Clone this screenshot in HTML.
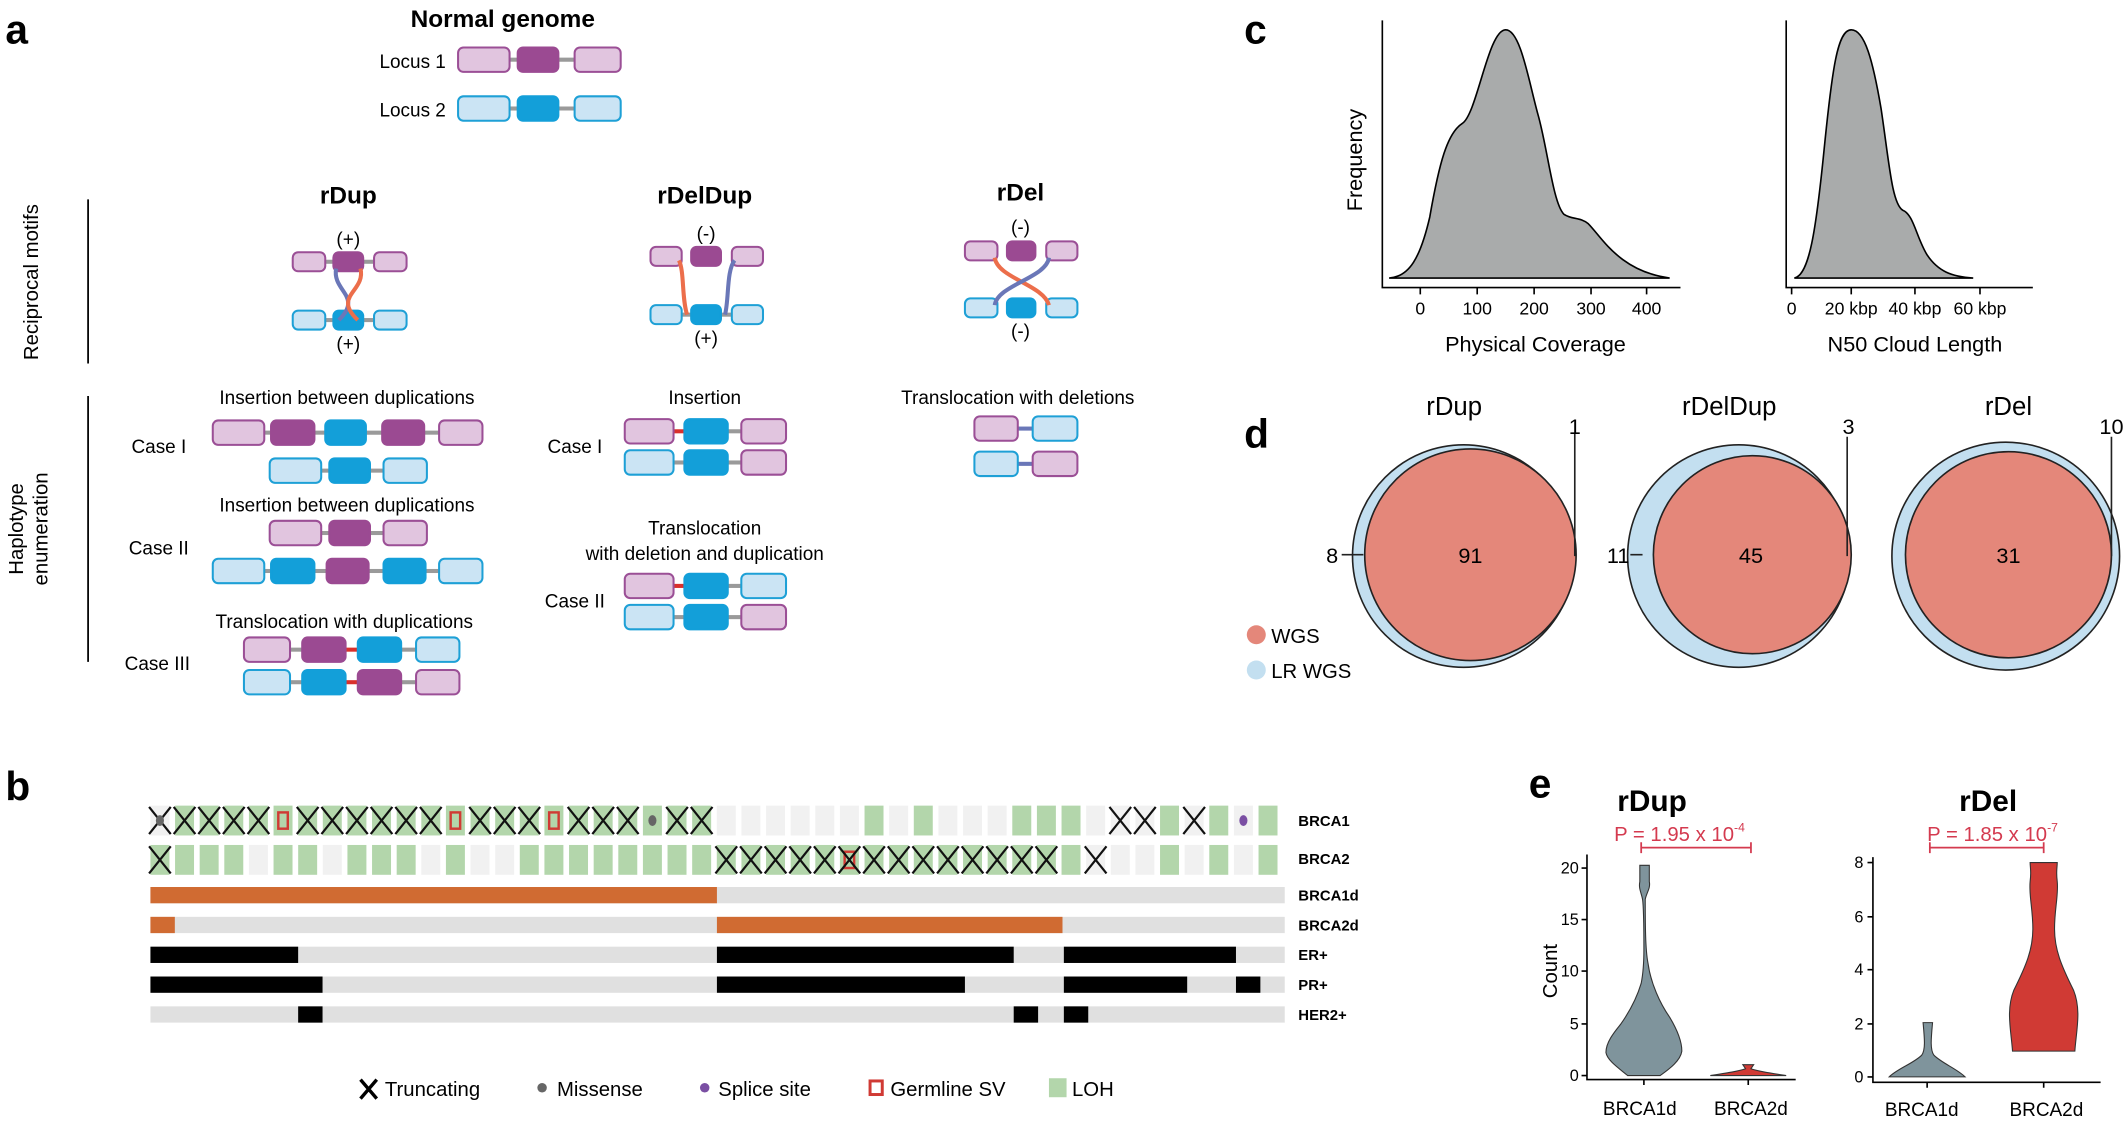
<!DOCTYPE html>
<html><head><meta charset="utf-8"><style>
html,body{margin:0;padding:0;background:#fff}
svg{display:block}
text{font-family:"Liberation Sans",Arial,sans-serif}
</style></head><body>
<svg id="s" width="2125" height="1123" viewBox="0 0 1568 828" preserveAspectRatio="none" xmlns="http://www.w3.org/2000/svg">
<g font-weight="bold" font-size="30"><text x="4" y="32">a</text><text x="4" y="590">b</text><text x="918" y="32">c</text><text x="918" y="330">d</text><text x="1128" y="588">e</text></g>
<text x="371" y="20" font-size="18" font-weight="bold" text-anchor="middle">Normal genome</text>
<text x="329" y="50" font-size="14" text-anchor="end">Locus 1</text>
<text x="329" y="86" font-size="14" text-anchor="end">Locus 2</text>
<g font-size="18" font-weight="bold" text-anchor="middle"><text x="257" y="150">rDup</text><text x="520" y="150">rDelDup</text><text x="753" y="148">rDel</text></g>
<g font-size="14" text-anchor="middle"><text x="257" y="181">(+)</text><text x="257" y="258">(+)</text><text x="521" y="177">(-)</text><text x="521" y="254">(+)</text><text x="753" y="172">(-)</text><text x="753" y="249">(-)</text></g>
<line x1="65" y1="147" x2="65" y2="268" stroke="#000" stroke-width="1.3"/>
<line x1="65" y1="292" x2="65" y2="488" stroke="#000" stroke-width="1.3"/>
<text transform="translate(28,208) rotate(-90)" font-size="15" text-anchor="middle">Reciprocal motifs</text>
<text transform="translate(17,390) rotate(-90)" font-size="15" text-anchor="middle">Haplotype</text>
<text transform="translate(35,390) rotate(-90)" font-size="15" text-anchor="middle">enumeration</text>
<g font-size="14" text-anchor="middle"><text x="256" y="298">Insertion between duplications</text><text x="256" y="377">Insertion between duplications</text><text x="254" y="463">Translocation with duplications</text><text x="520" y="298">Insertion</text><text x="520" y="394">Translocation</text><text x="520" y="413">with deletion and duplication</text><text x="751" y="298">Translocation with deletions</text></g>
<g font-size="14"><text x="97" y="334">Case I</text><text x="95" y="409">Case II</text><text x="92" y="494">Case III</text><text x="404" y="334">Case I</text><text x="402" y="448">Case II</text></g>
<g id="g"></g>
<!-- panel c -->
<g stroke="#000" stroke-width="1.2" fill="none">
<path d="M1020 15V212H1240M1048 212v5M1090 212v5M1132 212v5M1174 212v5M1215 212v5"/>
<path d="M1318 15V212H1500M1322 212v5M1366 212v5M1413 212v5M1461 212v5"/>
</g>
<path d="M1025 205 C1040 204,1048 190,1055 160 C1062 120,1068 98,1079 91 C1090 84,1098 22,1111 22 C1122 22,1128 60,1135 85 C1142 110,1146 150,1154 158 C1160 162,1166 160,1172 165 C1182 175,1195 200,1232 205Z" fill="#a9abab" stroke="#000" stroke-width="1.2"/>
<path d="M1324 205 C1335 203,1340 170,1346 110 C1352 50,1356 22,1366 22 C1376 22,1382 45,1388 80 C1394 120,1396 150,1404 155 C1412 158,1414 175,1422 188 C1430 200,1440 204,1456 205Z" fill="#a9abab" stroke="#000" stroke-width="1.2"/>
<g font-size="13" text-anchor="middle"><text x="1048" y="232">0</text><text x="1090" y="232">100</text><text x="1132" y="232">200</text><text x="1174" y="232">300</text><text x="1215" y="232">400</text>
<text x="1322" y="232">0</text><text x="1366" y="232">20 kbp</text><text x="1413" y="232">40 kbp</text><text x="1461" y="232">60 kbp</text></g>
<g font-size="16" text-anchor="middle"><text x="1133" y="259">Physical Coverage</text><text x="1413" y="259">N50 Cloud Length</text></g>
<text transform="translate(1005,118) rotate(-90)" font-size="16" text-anchor="middle">Frequency</text>
<!-- panel d -->
<g stroke="#222" stroke-width="1.2">
<circle cx="1080" cy="410" r="82" fill="#c3dff0"/><circle cx="1085" cy="409" r="78" fill="#e4877a"/>
<circle cx="1283" cy="410" r="82" fill="#c3dff0"/><circle cx="1293" cy="409" r="73" fill="#e4877a"/>
<circle cx="1480" cy="410" r="84" fill="#c3dff0"/><circle cx="1482" cy="409" r="76" fill="#e4877a"/>
<path d="M1162 320V410M990 409H1006M1363 322V410M1203 409H1212M1558 322V410" fill="none"/>
</g>
<g font-size="19" text-anchor="middle"><text x="1073" y="306">rDup</text><text x="1276" y="306">rDelDup</text><text x="1482" y="306">rDel</text></g>
<g font-size="16" text-anchor="middle"><text x="1085" y="415">91</text><text x="1292" y="415">45</text><text x="1482" y="415">31</text><text x="1162" y="320">1</text><text x="983" y="415">8</text><text x="1364" y="320">3</text><text x="1194" y="415">11</text><text x="1558" y="320">10</text></g>
<circle cx="927" cy="468" r="7" fill="#e4877a"/><circle cx="927" cy="494" r="7" fill="#c3dff0"/>
<g font-size="15"><text x="938" y="474">WGS</text><text x="938" y="500">LR WGS</text></g>
<!-- panel e -->
<g font-size="22" font-weight="bold" text-anchor="middle"><text x="1219" y="598">rDup</text><text x="1467" y="598">rDel</text></g>
<g fill="#d43a4f" font-size="15"><text x="1191" y="620">P = 1.95 x 10<tspan font-size="9" dy="-7">-4</tspan></text><text x="1422" y="620">P = 1.85 x 10<tspan font-size="9" dy="-7">-7</tspan></text></g>
<g stroke="#d43a4f" stroke-width="1.3"><path d="M1211 625H1292M1211 621v8M1292 621v8"/><path d="M1424 625H1508M1424 621v8M1508 621v8"/></g>
<g stroke="#000" stroke-width="1.2" fill="none"><path d="M1171 630V796H1325M1167 640h4M1167 678h4M1167 716h4M1167 755h4M1167 793h4M1213 796v4M1290 796v4"/>
<path d="M1382 632V798H1550M1378 636h4M1378 676h4M1378 715h4M1378 755h4M1378 794h4M1422 798v4M1508 798v4"/></g>
<g font-size="12" text-anchor="end"><text x="1165" y="644">20</text><text x="1165" y="682">15</text><text x="1165" y="720">10</text><text x="1165" y="759">5</text><text x="1165" y="797">0</text>
<text x="1375" y="640">8</text><text x="1375" y="680">6</text><text x="1375" y="719">4</text><text x="1375" y="759">2</text><text x="1375" y="798">0</text></g>
<text transform="translate(1149,716) rotate(-90)" font-size="15" text-anchor="middle">Count</text>
<g font-size="14" text-anchor="middle"><text x="1210" y="822">BRCA1d</text><text x="1292" y="822">BRCA2d</text><text x="1418" y="823">BRCA1d</text><text x="1510" y="823">BRCA2d</text></g>
<path d="M1201 793 C1195 788,1186 782,1185 776 C1185 768,1192 760,1196 755 C1203 745,1208 735,1211 725 C1213 715,1213 705,1213 700 C1213 690,1213 670,1212 663 C1211 658,1209 655,1210 650 L1210 638 H1217 L1217 650 C1218 655,1215 658,1214 663 C1214 680,1214 700,1216 710 C1218 725,1225 740,1232 750 C1238 760,1241 768,1241 775 C1240 782,1232 788,1225 793Z" fill="#7f949c" stroke="#333" stroke-width="0.8"/>
<path d="M1262 793 C1275 791,1282 790,1288 788 L1286 785 H1294 L1292 788 C1298 790,1305 791,1318 793Z" fill="#d03a34" stroke="#333" stroke-width="0.8"/>
<path d="M1394 794 C1400 788,1412 784,1418 778 C1421 774,1420 765,1419 754 H1426 C1425 765,1424 774,1427 778 C1433 784,1444 788,1450 794Z" fill="#7f949c" stroke="#333" stroke-width="0.8"/>
<path d="M1485 775 C1484 760,1480 745,1486 730 C1495 712,1500 700,1500 685 C1500 670,1497 660,1498 650 C1499 642,1498 640,1498 636 H1518 C1518 640,1517 642,1518 650 C1519 660,1516 670,1516 685 C1516 700,1521 712,1530 730 C1536 745,1532 760,1531 775Z" fill="#d03a34" stroke="#333" stroke-width="0.8"/>
<!-- panel b legend -->
<g font-size="15"><text x="284" y="808">Truncating</text><text x="411" y="808">Missense</text><text x="530" y="808">Splice site</text><text x="657" y="808">Germline SV</text><text x="791" y="808">LOH</text></g>
<path d="M266 796l12 14M278 796l-12 14" stroke="#000" stroke-width="2.5"/>
<circle cx="400" cy="802" r="3.5" fill="#666"/><circle cx="520" cy="802" r="3.5" fill="#7a4fa3"/>
<rect x="642" y="797" width="9" height="10" fill="#fff" stroke="#d03a34" stroke-width="2.2"/>
<rect x="774" y="795" width="13" height="14" fill="#b3d6ab"/>
<g font-size="11" font-weight="bold"><text x="958" y="609">BRCA1</text><text x="958" y="637">BRCA2</text><text x="958" y="664">BRCA1d</text><text x="958" y="686">BRCA2d</text><text x="958" y="708">ER+</text><text x="958" y="730">PR+</text><text x="958" y="752">HER2+</text></g>
</svg>
<script>
var NS="http://www.w3.org/2000/svg",G=document.getElementById("g");
function el(t,a){var e=document.createElementNS(NS,t);for(var k in a)e.setAttribute(k,a[k]);G.appendChild(e);return e;}
var C={lp:["#e1c5df","#9b4f96"],dp:["#9b4a92","#9b4a92"],lb:["#cbe4f4","#1ea0d6"],db:["#139fd9","#139fd9"]};
function row(y,h,bs,lc){
 for(var i=0;i<bs.length-1;i++){el("line",{x1:bs[i][1],y1:y,x2:bs[i+1][0],y2:y,stroke:(lc&&lc[i])||"#9a9a9a","stroke-width":3});}
 bs.forEach(function(b){var c=C[b[2]];el("rect",{x:b[0],y:y-h/2,width:b[1]-b[0],height:h,rx:4,fill:c[0],stroke:c[1],"stroke-width":1.5});});
}
var H=18,R="#d9302c";
row(44,H,[[338,376,"lp"],[382,412,"dp"],[424,458,"lp"]]);
row(80,H,[[338,376,"lb"],[382,412,"db"],[424,458,"lb"]]);
row(319,H,[[157,195,"lp"],[200,232,"dp"],[240,270,"db"],[282,313,"dp"],[324,356,"lp"]]);
row(347,H,[[199,237,"lb"],[243,273,"db"],[283,315,"lb"]]);
row(393,H,[[199,237,"lp"],[243,273,"dp"],[283,315,"lp"]]);
row(421,H,[[157,195,"lb"],[200,232,"db"],[241,272,"dp"],[283,314,"db"],[324,356,"lb"]]);
row(479,H,[[180,214,"lp"],[223,255,"dp"],[264,296,"db"],[307,339,"lb"]],[0,R]);
row(503,H,[[180,214,"lb"],[223,255,"db"],[264,296,"dp"],[307,339,"lp"]],[0,R]);
row(318,H,[[461,497,"lp"],[505,537,"db"],[547,580,"lp"]],[R]);
row(341,H,[[461,497,"lb"],[505,537,"db"],[547,580,"lp"]]);
row(432,H,[[461,497,"lp"],[505,537,"db"],[547,580,"lb"]],[R]);
row(455,H,[[461,497,"lb"],[505,537,"db"],[547,580,"lp"]]);
row(316,H,[[719,751,"lp"],[762,795,"lb"]],["#6a77b8"]);
row(342,H,[[719,751,"lb"],[762,795,"lp"]],["#6a77b8"]);
var h2=14;
function motif(y1,y2,bs,curves,links1,links2){
 row(y1,h2,[[bs[0],bs[1],"lp"],[bs[2],bs[3],"dp"],[bs[4],bs[5],"lp"]],links1);
 row(y2,h2,[[bs[0],bs[1],"lb"],[bs[2],bs[3],"db"],[bs[4],bs[5],"lb"]],links2);
 curves.forEach(function(c){el("path",{d:c[0],stroke:c[1],"stroke-width":3,fill:"none"});});
}
motif(193,236,[216,240,246,268,276,300],[["M248 198 C245 215,268 218,250 236","#6a77b8"],["M266 198 C270 215,245 218,264 236","#ec6e4b"]]);
motif(189,232,[480,503,510,532,540,563],[["M501 192 C505 200,503 220,507 232","#ec6e4b"],["M542 192 C536 200,538 220,535 232","#6a77b8"]],["none","none"]);
motif(185,227,[712,736,743,764,772,795],[["M734 190 C736 205,770 210,774 225","#ec6e4b"],["M774 190 C772 205,736 210,734 225","#6a77b8"]],["none","none"],["none","none"]);
var x0=111,p=18.17,w=14;
function cx(i){return x0+i*p;}
var B1={X:[0,1,2,3,4,6,7,8,9,10,11,13,14,15,17,18,19,21,22,39,40,42],S:[5,12,16],M:[0,20],P:[44],L:[1,2,3,4,5,6,7,8,9,10,11,12,13,14,15,16,17,18,19,20,21,22,29,31,35,36,37,41,43,45]};
var B2={X:[0,23,24,25,26,27,28,29,30,31,32,33,34,35,36,38],S:[28],L:[0,1,2,3,5,6,8,9,10,12,15,16,17,18,19,20,21,22,23,24,25,26,27,28,29,30,31,32,33,34,35,36,37,41,43,45]};
function cells(y,D){
 for(var i=0;i<46;i++){var g=D.L.indexOf(i)>=0;el("rect",{x:cx(i),y:y,width:w,height:22,fill:g?"#b3d6ab":"#f1f1f1"});}
 (D.S||[]).forEach(function(i){el("rect",{x:cx(i)+3.5,y:y+5,width:7,height:12,fill:"none",stroke:"#d03a34","stroke-width":1.8});});
 D.X.forEach(function(i){el("path",{d:"M"+(cx(i)-1)+" "+(y+1)+"L"+(cx(i)+w+1)+" "+(y+21)+"M"+(cx(i)+w+1)+" "+(y+1)+"L"+(cx(i)-1)+" "+(y+21),stroke:"#111","stroke-width":1.6});});
 (D.M||[]).forEach(function(i){el("ellipse",{cx:cx(i)+w/2,cy:y+11,rx:3,ry:4,fill:"#666"});});
 (D.P||[]).forEach(function(i){el("ellipse",{cx:cx(i)+w/2,cy:y+11,rx:3,ry:4,fill:"#7a4fa3"});});
}
cells(594,B1);cells(623,B2);
function bar(y,col,segs){el("rect",{x:x0,y:y,width:837,height:12,fill:"#e0e0e0"});segs.forEach(function(s){el("rect",{x:s[0],y:y,width:s[1]-s[0],height:12,fill:col});});}
var O="#d06b32",K="#000";
bar(654,O,[[111,529]]);
bar(676,O,[[111,129],[529,784]]);
bar(698,K,[[111,220],[529,748],[785,912]]);
bar(720,K,[[111,238],[529,712],[785,876],[912,930]]);
bar(742,K,[[220,238],[748,766],[785,803]]);
</script>
</body></html>
